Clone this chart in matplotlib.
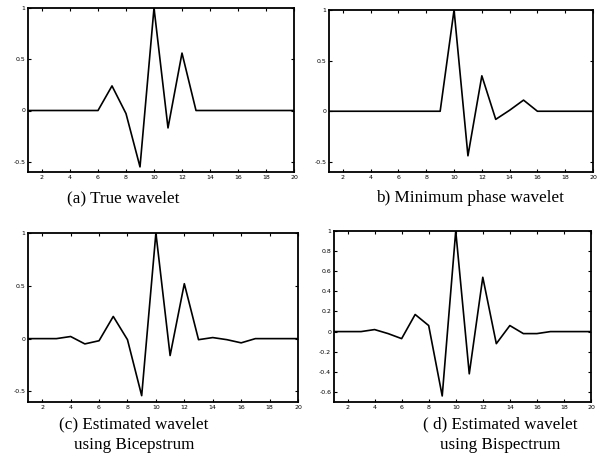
import matplotlib
matplotlib.use("Agg")
import matplotlib.pyplot as plt
import numpy as np

n = list(range(1, 21))
true_wavelet = [0, 0, 0, 0, 0, 0, 0.24, -0.03, -0.55, 1.0, -0.17, 0.56, 0, 0, 0, 0, 0, 0, 0, 0]
min_phase = [0, 0, 0, 0, 0, 0, 0, 0, 0, 1.0, -0.44, 0.35, -0.08, 0.01, 0.11, 0, 0, 0, 0, 0]
bicepstrum = [0, 0, 0, 0.02, -0.05, -0.02, 0.21, -0.01, -0.54, 1.0, -0.16, 0.52, -0.01, 0.01, -0.01, -0.04, 0, 0, 0, 0]
bispectrum = [0, 0, 0, 0.02, -0.02, -0.07, 0.17, 0.06, -0.64, 1.0, -0.42, 0.54, -0.12, 0.06, -0.02, -0.02, 0, 0, 0, 0]

xticks = [2, 4, 6, 8, 10, 12, 14, 16, 18, 20]
yticks_a = [-0.5, 0, 0.5, 1]
ytick_labels_a = ["-0.5", "0", "0.5", "1"]
yticks_d = [-0.6, -0.4, -0.2, 0, 0.2, 0.4, 0.6, 0.8, 1]
ytick_labels_d = ["-0.6", "-0.4", "-0.2", "0", "0.2", "0.4", "0.6", "0.8", "1"]

captions = [
    ["(a) True wavelet"],
    ["b) Minimum phase wavelet"],
    ["(c) Estimated wavelet", "using Bicepstrum"],
    ["( d) Estimated wavelet", "using Bispectrum"],
]

fig = plt.figure(figsize=(6.05, 4.53), dpi=100)
W, H = 605, 453

def px_axes(l, t, r, b):
    return fig.add_axes([l / W, 1 - b / H, (r - l) / W, (b - t) / H])

panels = [
    (px_axes(28, 8, 294, 172), true_wavelet, (-0.6, 1), yticks_a, ytick_labels_a),
    (px_axes(329, 10, 593, 172), min_phase, (-0.6, 1), yticks_a, ytick_labels_a),
    (px_axes(28, 233, 298, 402), bicepstrum, (-0.6, 1), yticks_a, ytick_labels_a),
    (px_axes(334, 231, 591, 402), bispectrum, (-0.7, 1), yticks_d, ytick_labels_d),
]

for ax, y, ylim, yt, ytl in panels:
    ax.plot(n, y, color="black", lw=1.2)
    ax.set_xlim(1, 20)
    ax.set_ylim(*ylim)
    ax.set_xticks(xticks)
    ax.set_xticklabels([str(v) for v in xticks])
    ax.set_yticks(yt)
    ax.set_yticklabels(ytl)
    ax.tick_params(direction="in", length=2.5, width=0.8, labelsize=4.5,
                   top=True, right=True, pad=2)
    for s in ax.spines.values():
        s.set_linewidth(1.3)

serif = ["Liberation Serif", "DejaVu Serif"]
cap_pos = [
    (123, [202]),
    (470, [202]),
    (134, [428, 449]),
    (500, [428, 449]),
]
for (cx, ys), lines in zip(cap_pos, captions):
    for yy, txt in zip(ys, lines):
        fig.text(cx / W, 1 - yy / H, txt, ha="center", va="baseline",
                 family=serif, fontsize=12.3)

fig.savefig("out.png", dpi=100)
